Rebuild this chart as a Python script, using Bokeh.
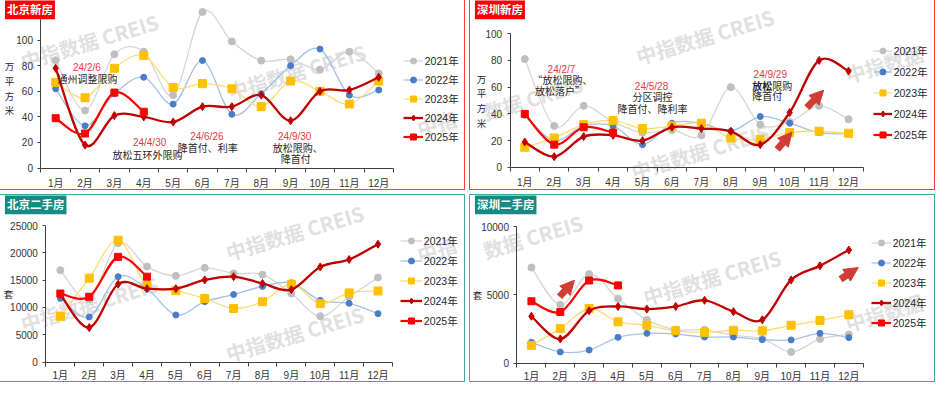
from bokeh.plotting import figure
from bokeh.layouts import column, row
from bokeh.models import (ColumnDataSource, Label, Legend, LegendItem, FixedTicker,
                          Arrow, NormalHead, Range1d)
from bokeh.embed import file_html
from bokeh.resources import INLINE

# ---------------- data ----------------
months = ["1月", "2月", "3月", "4月", "5月", "6月", "7月", "8月", "9月", "10月", "11月", "12月"]
years = ["2021年", "2022年", "2023年", "2024年", "2025年"]

# 北京新房 (万平方米)
bj_new_2021 = [84, 45, 89, 91, 57, 122, 99, 84, 85, 77, 91, 74]
bj_new_2022 = [62, 33, 58, 71, 50, 84, 42, 58, 80, 93, 57, 61]
bj_new_2023 = [67, 55, 78, 88, 63, 66, 62, 48, 68, 60, 50, 68]
bj_new_2024 = [78, 18, 41, 40, 36, 48, 48, 57, 37, 60, 61, 71]
bj_new_2025 = [39, 27, 59, 44]

# 深圳新房 (万平方米)
sz_new_2021 = [81, 31, 46, 34, 26, 28, 24, 60, 32, 34, 46, 36]
sz_new_2022 = [39, 20, 31, 31, 17, 33, 33, 27, 38, 33, 26, 25]
sz_new_2023 = [15, 22, 32, 35, 29, 31, 33, 22, 21, 26, 27, 25.5]
sz_new_2024 = [19, 8, 23, 24, 20, 30, 29, 27, 17, 41, 80, 72]
sz_new_2025 = [40, 17, 30, 26]

# 北京二手房 (套)
bj_sec_2021 = [16840, 11500, 21800, 17500, 15800, 17270, 16250, 16020, 12560, 8390, 11970, 15480]
bj_sec_2022 = [11660, 8270, 15650, 13450, 8630, 11070, 12380, 13860, 14520, 11300, 10770, 8870]
bj_sec_2023 = [8390, 15380, 22340, 14040, 13090, 11660, 9820, 11070, 14280, 10710, 12670, 13030]
bj_sec_2024 = [12440, 6310, 14280, 13450, 13450, 15050, 15650, 14400, 13270, 17440, 18800, 21600]
bj_sec_2025 = [12560, 11960, 19280, 15650]

# 深圳二手房 (套)
sz_sec_2021 = [7010, 4280, 6530, 4730, 3180, 2470, 2450, 2050, 1800, 830, 1780, 2110]
sz_sec_2022 = [1540, 830, 970, 1900, 2190, 2140, 1920, 1920, 1730, 1710, 2190, 1880]
sz_sec_2023 = [1310, 2540, 4010, 3040, 2780, 2380, 2260, 2420, 2380, 2780, 3140, 3560]
sz_sec_2024 = [3440, 1780, 3850, 4160, 3970, 4160, 4610, 3780, 3180, 6100, 7130, 8290]
sz_sec_2025 = [4540, 3750, 6060, 5700]

FONT = "Liberation Sans, Noto Sans CJK SC"
CJK = "Noto Sans CJK SC"
RED_TXT = "#e8383d"
BLK_TXT = "#262626"
ARROW_C = "#cf3d33"

STYLE = {
    "2021年": dict(line="#d6d6d6", lw=1.3, marker="circle", size=7, fill="#bfbfbf"),
    "2022年": dict(line="#a4c2e8", lw=1.3, marker="circle", size=6, fill="#4a7cc7"),
    "2023年": dict(line="#ffdc73", lw=1.3, marker="square", size=8, fill="#ffc000"),
    "2024年": dict(line="#c00000", lw=2.3, marker="diamond", size=8, fill="#c00000"),
    "2025年": dict(line="#ff0000", lw=2.2, marker="square", size=7, fill="#ff0000"),
}


def bezier_source(ys):
    n = len(ys)
    xs = [i + 1 for i in range(n)]
    d = {k: [] for k in ("x0", "y0", "x1", "y1", "cx0", "cy0", "cx1", "cy1")}
    for i in range(n - 1):
        a = max(i - 1, 0)
        b = min(i + 2, n - 1)
        d["x0"].append(xs[i]); d["y0"].append(ys[i])
        d["x1"].append(xs[i + 1]); d["y1"].append(ys[i + 1])
        d["cx0"].append(xs[i] + (xs[i + 1] - xs[a]) / 6)
        d["cy0"].append(ys[i] + (ys[i + 1] - ys[a]) / 6)
        d["cx1"].append(xs[i + 1] - (xs[b] - xs[i]) / 6)
        d["cy1"].append(ys[i + 1] - (ys[b] - ys[i]) / 6)
    return ColumnDataSource(d)


def make_panel(cfg):
    rx0, ry0, rw, rh = cfg["canvas"]
    fl, fr, ftop_px, fb = cfg["frame"]       # reference pixels: axis left/right, y of ytop, y of 0
    ytop, ybound = cfg["ytop"], cfg["ybound"]
    W, H = cfg["size"]
    sx, sy = W / rw, H / rh
    Lc, Rc = (fl - rx0) * sx, (fr - rx0) * sx
    Tc, Bc = (ftop_px - ry0) * sy, (fb - ry0) * sy
    xpu = (Rc - Lc) / 12.0
    ypu = (Bc - Tc) / ytop
    xr = Range1d(0.5 - Lc / xpu, 12.5 + (W - Rc) / xpu)
    yr = Range1d(-(H - Bc) / ypu, ytop + Tc / ypu)

    def scr(fx, fy):
        return ((fx - rx0) * sx, H - (fy - ry0) * sy)

    p = figure(width=W, height=H, x_range=xr, y_range=yr, title_location=None,
               output_backend="svg", toolbar_location=None,
               min_border=0, min_border_left=0, min_border_right=0,
               min_border_top=0, min_border_bottom=0)
    p.styles = {"outline": "1.5px solid " + cfg["border"], "outline-offset": "0px"}
    p.xgrid.visible = False
    p.ygrid.visible = False
    p.outline_line_color = None
    p.background_fill_color = "white"
    p.border_fill_color = "white"

    for ax in (p.xaxis, p.yaxis):
        ax.axis_line_color = "#404040"
        ax.axis_line_width = 1
        ax.major_tick_line_color = "#404040"
        ax.minor_tick_line_color = "#404040"
        ax.major_label_text_font = FONT
        ax.major_label_text_font_size = "10px"
        ax.major_label_text_color = "#333333"

    p.xaxis.fixed_location = 0
    p.xaxis.bounds = (0.5, 12.5)
    p.xaxis.ticker = FixedTicker(ticks=list(range(1, 13)), minor_ticks=[i + 0.5 for i in range(13)])
    p.xaxis.major_label_overrides = {i + 1: m for i, m in enumerate(months)}
    p.xaxis.major_tick_out = 0
    p.xaxis.major_tick_in = 0
    p.xaxis.minor_tick_out = 4
    p.xaxis.minor_tick_in = 0
    p.xaxis.major_label_standoff = cfg["xstandoff"]

    p.yaxis.fixed_location = 0.5
    p.yaxis.bounds = (0, ybound)
    p.yaxis.ticker = FixedTicker(ticks=cfg["yticks"], minor_ticks=[])
    p.yaxis.major_tick_out = 3
    p.yaxis.major_tick_in = 0
    p.yaxis.minor_tick_out = 0
    p.yaxis.minor_tick_in = 0
    p.yaxis.major_label_standoff = 5

    # watermarks
    for (wx, wy, wt) in cfg["watermarks"]:
        x, y = scr(wx, wy)
        p.add_layout(Label(x=x, y=y, x_units="screen", y_units="screen", text=wt,
                           angle=0.29, text_align="center", text_baseline="middle",
                           text_font=CJK, text_font_style="bold", text_font_size="20px",
                           text_color="#e0e0e0", level="underlay"))

    items = []
    for yr_name, ys in zip(years, cfg["series"]):
        st = STYLE[yr_name]
        src = bezier_source(ys)
        p.bezier(x0="x0", y0="y0", x1="x1", y1="y1", cx0="cx0", cy0="cy0", cx1="cx1", cy1="cy1",
                 source=src, line_color=st["line"], line_width=st["lw"])
        xs = [i + 1 for i in range(len(ys))]
        sc = p.scatter(x=xs, y=ys, marker=st["marker"], size=st["size"],
                       fill_color=st["fill"], line_color=st["fill"])
        # off-range proxy line, used only for the legend swatch
        proxy = p.line(x=[-100, -99], y=[0, 0], line_color=st["line"], line_width=st["lw"])
        items.append(LegendItem(label=yr_name, renderers=[proxy, sc]))

    gl, c0, step, gw = cfg["legend"]
    rowh = 15
    sp = max(int(round(step * sy)) - rowh, 0)
    lx, ly_last = scr(gl, c0 + 4 * step)
    legend = Legend(items=items, location=(lx, ly_last - rowh / 2), orientation="vertical",
                    background_fill_alpha=0, border_line_color=None,
                    label_text_font=FONT, label_text_font_size="10.5px", label_text_color=BLK_TXT,
                    glyph_width=int(round(gw * sx)), glyph_height=rowh, label_height=rowh,
                    label_standoff=2, spacing=sp, padding=0, margin=0)
    p.add_layout(legend)

    # y axis unit label
    ytxt, yx, yy = cfg["ylabel"]
    x, y = scr(yx, yy)
    p.add_layout(Label(x=x, y=y, x_units="screen", y_units="screen", text=ytxt,
                       text_align="center", text_baseline="middle", text_font=CJK,
                       text_font_size="9.5px", text_line_height=1.05, text_color=BLK_TXT))

    # annotations
    for ann in cfg["annotations"]:
        txt, ax_, ay_, col, align, bold = ann
        x, y = scr(ax_, ay_)
        p.add_layout(Label(x=x, y=y, x_units="screen", y_units="screen", text=txt,
                           text_align=align, text_baseline="middle",
                           text_font=FONT if col == RED_TXT else CJK,
                           text_font_style="bold" if bold else "normal",
                           text_font_size="10px", text_color=col))

    for (x0, y0, x1, y1) in cfg["arrows"]:
        a0, b0 = scr(x0, y0)
        a1, b1 = scr(x1, y1)
        p.add_layout(Arrow(end=NormalHead(size=14, fill_color=ARROW_C, line_color=ARROW_C),
                           x_start=a0, y_start=b0, x_end=a1, y_end=b1,
                           start_units="screen", end_units="screen",
                           line_color=ARROW_C, line_width=7))

    # panel title box
    tx, ty = scr(rx0 + 4.5, ry0 + 9)
    p.add_layout(Label(x=tx, y=ty, x_units="screen", y_units="screen", text=cfg["title"],
                       text_align="left", text_baseline="middle", text_font=CJK,
                       text_font_style="bold", text_font_size="11.5px", text_color="white",
                       background_fill_color=cfg["title_bg"], padding=2))
    return p


RED_B = "#ff3b3b"
TEAL_B = "#3fa8a0"

p1 = make_panel(dict(
    title="北京新房", title_bg="#ff0000", border=RED_B,
    canvas=(2, 2, 470, 194), frame=(43, 400, 42.67, 174), size=(464, 189),
    ytop=100, ybound=122, yticks=[0, 20, 40, 60, 80, 100], xstandoff=6,
    series=[bj_new_2021, bj_new_2022, bj_new_2023, bj_new_2024, bj_new_2025],
    legend=(410, 62, 20, 20),
    ylabel=("万\n平\n方\n米", 11, 92),
    annotations=[
        ("24/2/6", 89.5, 71, RED_TXT, "center", False),
        ("通州调整限购", 90, 82, BLK_TXT, "center", False),
        ("24/4/30", 153, 148, RED_TXT, "center", False),
        ("放松五环外限购", 151, 160, BLK_TXT, "center", False),
        ("24/6/26", 211, 142, RED_TXT, "center", False),
        ("降首付、利率", 212, 153, BLK_TXT, "center", False),
        ("24/9/30", 300, 142, RED_TXT, "center", False),
        ("放松限购、", 303, 153, BLK_TXT, "center", False),
        ("降首付", 301, 164, BLK_TXT, "center", False),
    ],
    arrows=[],
    watermarks=[(92, 44, "中指数据 CREIS"), (302, 75, "中指数据 CREIS"),
                (444, 128, "中指")],
))

p2 = make_panel(dict(
    title="深圳新房", title_bg="#ff0000", border=RED_B,
    canvas=(478, 2, 469, 194), frame=(518, 875, 36, 173.3), size=(464, 189),
    ytop=100, ybound=100, yticks=[0, 20, 40, 60, 80, 100], xstandoff=6,
    series=[sz_new_2021, sz_new_2022, sz_new_2023, sz_new_2024, sz_new_2025],
    legend=(885, 52.3, 22, 19),
    ylabel=("万\n平\n方\n米", 489, 105),
    annotations=[
        ("24/2/7", 570, 73, RED_TXT, "center", False),
        ("“放松限购、", 571, 83.5, BLK_TXT, "center", False),
        ("放松落户”", 568.5, 94.5, BLK_TXT, "center", False),
        ("24/5/28", 661, 90, RED_TXT, "center", False),
        ("分区调控", 662, 101, BLK_TXT, "center", False),
        ("降首付、降利率", 662, 112.5, BLK_TXT, "center", False),
        ("24/9/29", 781, 78.3, RED_TXT, "center", False),
        ("放松", 783, 89.3, BLK_TXT, "right", True),
        ("限购", 783, 89.3, BLK_TXT, "left", False),
        ("降首付", 778, 100, BLK_TXT, "center", False),
    ],
    arrows=[(788, 155, 803, 137), (818, 112, 835, 94)],
    watermarks=[(715, 39, "中指数据 CREIS"), (541, 102, "数据 CREIS"),
                (710, 157, "中指数据 CREIS"), (896, 67, "中指数据")],
))

p3 = make_panel(dict(
    title="北京二手房", title_bg="#178a84", border=TEAL_B,
    canvas=(2, 203, 470, 191), frame=(48, 399, 234, 374), size=(464, 186),
    ytop=25000, ybound=25000, yticks=[0, 5000, 10000, 15000, 20000, 25000], xstandoff=4,
    series=[bj_sec_2021, bj_sec_2022, bj_sec_2023, bj_sec_2024, bj_sec_2025],
    legend=(407, 250.7, 20.3, 22),
    ylabel=("套", 10, 304),
    annotations=[],
    arrows=[],
    watermarks=[(300, 241, "中指数据 CREIS"), (92, 314, "中指数据 CREIS"),
                (300, 345, "中指数据 CREIS"), (444, 258, "中指")],
))

p4 = make_panel(dict(
    title="深圳二手房", title_bg="#178a84", border=TEAL_B,
    canvas=(478, 203, 469, 191), frame=(525, 875, 235, 375.3), size=(464, 186),
    ytop=10000, ybound=10000, yticks=[0, 5000, 10000], xstandoff=4,
    series=[sz_sec_2021, sz_sec_2022, sz_sec_2023, sz_sec_2024, sz_sec_2025],
    legend=(883, 252.3, 20.4, 20),
    ylabel=("套", 485, 305),
    annotations=[],
    arrows=[(568, 307, 583, 290), (852, 289, 870, 277)],
    watermarks=[(541, 245, "数据 CREIS"), (722, 287, "中指数据 CREIS"),
                (896, 323, "中指数据")],
))

layout = column(row(p1, p2, spacing=6), row(p3, p4, spacing=6), spacing=6)
open("out.html", "w").write(file_html(layout, INLINE, "北京深圳成交"))
